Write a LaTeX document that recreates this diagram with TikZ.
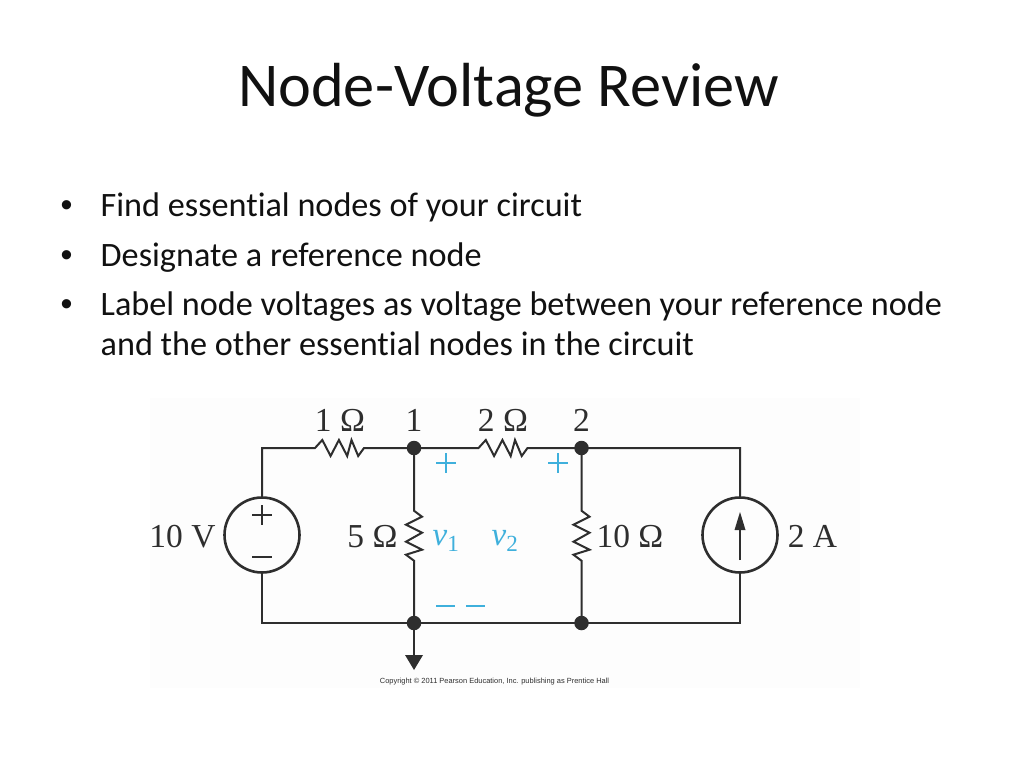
\documentclass[tikz,border=0pt]{standalone}
\usepackage{fontspec}
\setmainfont[RawFeature={-liga}]{Carlito}
\newfontfamily\cirfont{Liberation Serif}
\newfontfamily\cirital{Liberation Serif Italic}
\newfontfamily\copyfont{Liberation Sans}
\definecolor{wire}{HTML}{2E2E2E}
\definecolor{cyanv}{HTML}{3FB0DC}
\definecolor{ink}{HTML}{111111}
\definecolor{paper}{HTML}{FDFDFD}
\tikzset{
  x=1pt,y=-1pt,
  wireline/.style={draw=wire,line width=2pt,line join=miter},
  dotnode/.style={circle,fill=wire,draw=none,inner sep=0pt,minimum size=14.5pt},
  source/.style={circle,draw=wire,line width=2.6pt,fill=none,inner sep=0pt,minimum size=75pt},
  titletext/.style={anchor=base west,inner sep=0pt,font=\fontsize{62.3}{66}\selectfont,text=ink},
  bodytext/.style={anchor=base west,inner sep=0pt,font=\fontsize{34.2}{38}\selectfont,text=ink},
  bullettext/.style={anchor=base west,inner sep=0pt,font=\copyfont\fontsize{34}{38}\selectfont,text=ink},
  cirlabel/.style={anchor=base,inner sep=0pt,font=\cirfont\fontsize{33.5}{36}\selectfont,text=wire},
  vlabel/.style={anchor=base,inner sep=0pt,text=cyanv,font=\cirfont\fontsize{33}{36}\selectfont},
  copytext/.style={anchor=base,inner sep=0pt,font=\copyfont\fontsize{7.45}{9}\selectfont,text=wire}
}
\newcommand{\hres}{-- ++(7.3,-8) -- ++(8.3,16) -- ++(8.3,-16) -- ++(8.3,16) -- ++(4.3,-16) -- ++(6.7,16) -- ++(5.8,-8)}
\newcommand{\vres}{-- ++(8,6) -- ++(-16,8) -- ++(16,8) -- ++(-16,9) -- ++(16,8) -- ++(-16,5) -- ++(8,6)}
\begin{document}
\begin{tikzpicture}
\useasboundingbox (0,0) rectangle (1024,768);
\fill[white] (0,0) rectangle (1024,768);
\fill[paper] (150,398) rectangle (860,688);
% title and bullets
\node[titletext] (title) at (238,106) {Node-Voltage Review};
\node[bullettext] (b1) at (60.5,216) {•};
\node[bodytext] (t1) at (100.5,216) {Find essential nodes of your circuit};
\node[bullettext] (b2) at (60.5,266) {•};
\node[bodytext] (t2) at (100.5,266) {Designate a reference node};
\node[bullettext] (b3) at (60.5,315) {•};
\node[bodytext] (t3) at (100.5,315) {Label node voltages as voltage between your reference node};
\node[bodytext] (t4) at (100.5,355.5) {and the other essential nodes in the circuit};
% junctions
\coordinate (tl) at (262,448);
\coordinate (bl) at (262,623);
\coordinate (tr) at (740,448);
\coordinate (br) at (740,623);
\node[dotnode] (n1) at (414,448) {};
\node[dotnode] (n2) at (581.5,448) {};
\node[dotnode] (n3) at (414,623) {};
\node[dotnode] (n4) at (581.5,623) {};
\node[source] (vs) at (262,535) {};
\node[source] (is) at (740,535) {};
% wires and resistors
\draw[wireline] (vs.north) -- (tl) -- (315,448) \hres{} -- (n1.center);
\draw[wireline] (n1.center) -- (478.5,448) \hres{} -- (n2.center) -- (tr) -- (is.north);
\draw[wireline] (vs.south) -- (bl) -- (n3.center) -- (n4.center) -- (br) -- (is.south);
\draw[wireline] (n1.center) -- (414,510.7) \vres{} -- (n3.center);
\draw[wireline] (n2.center) -- (581.5,510.7) \vres{} -- (n4.center);
% ground
\coordinate (gtip) at (414,670);
\coordinate (gtop) at (414,655);
\draw[wireline] (n3.center) -- (gtop);
\fill[wire] (405,655) -- (423,655) -- (gtip) -- cycle;
% source symbols
\draw[wire,line width=1.2pt] (252,515) -- (272,515) (262,505) -- (262,525);
\draw[wire,line width=1.2pt] (252,557) -- (272,557);
\coordinate (atail) at (740,560);
\coordinate (ahead) at (740,512);
\draw[wire,line width=1.4pt] (atail) -- (740,525);
\fill[wire] (ahead) -- (745.5,530) -- (734.5,530) -- cycle;
% circuit labels
\node[cirlabel] (l1) at (340,431) {1 Ω};
\node[cirlabel] (l1n) at (414,431) {1};
\node[cirlabel] (l2) at (503,431) {2 Ω};
\node[cirlabel] (l2n) at (581.5,431) {2};
\node[cirlabel] (l10v) at (182.5,547) {10 V};
\node[cirlabel] (l5) at (372.5,547) {5 Ω};
\node[cirlabel] (l10) at (630,547) {10 Ω};
\node[cirlabel] (l2a) at (812.5,547) {2 A};
% node voltages
\node[vlabel] (v1) at (446,545) {\cirital v\textsubscript{\cirfont 1}};
\node[vlabel] (v2) at (505,545) {\cirital v\textsubscript{\cirfont 2}};
\draw[cyanv,line width=1.1pt] (436,463) -- (456,463) (446,453) -- (446,473);
\draw[cyanv,line width=1.1pt] (548,463) -- (568,463) (558,453) -- (558,473);
\draw[cyanv,line width=1.1pt] (436,606) -- (455,606) (466,606) -- (485,606);
\node[copytext] (copy) at (494.5,683) {Copyright © 2011 Pearson Education, Inc. publishing as Prentice Hall};
\end{tikzpicture}
\end{document}
